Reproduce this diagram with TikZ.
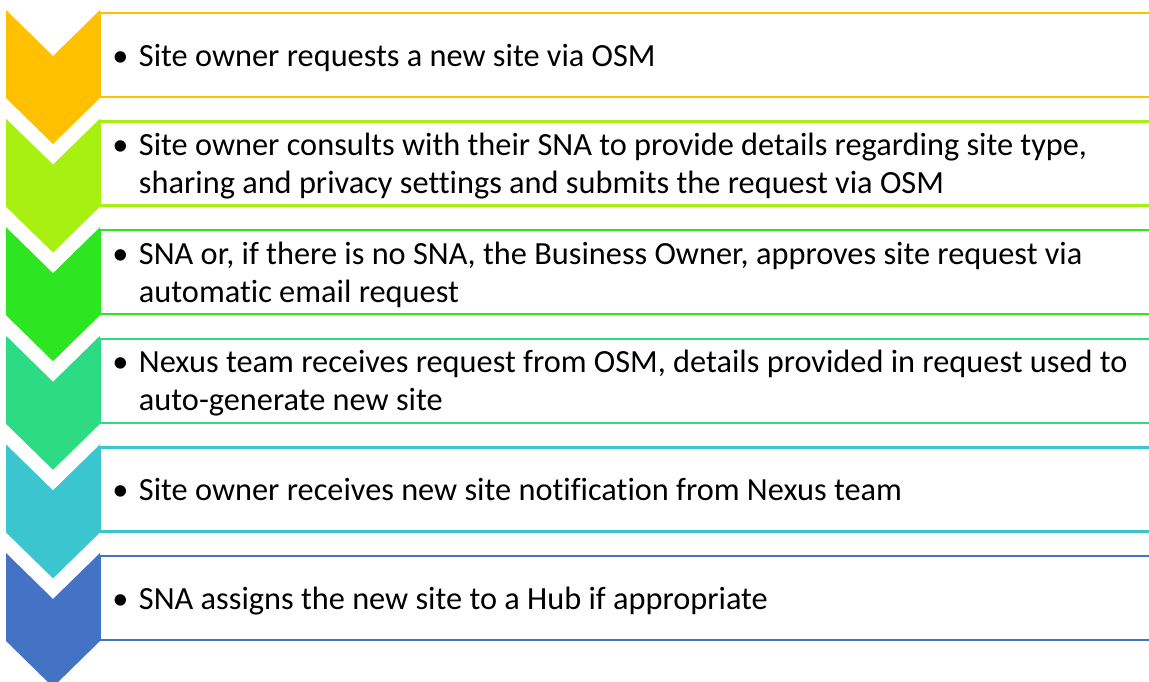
\documentclass[tikz,border=0pt]{standalone}
\usepackage{fontspec}
\setmainfont[Ligatures=NoCommon]{Carlito}

\definecolor{c1}{HTML}{FFC000}
\definecolor{c2}{HTML}{A8F011}
\definecolor{c3}{HTML}{2DE521}
\definecolor{c4}{HTML}{2CDB84}
\definecolor{c5}{HTML}{3BC5CF}
\definecolor{c6}{HTML}{4472C4}

\begin{document}
\begin{tikzpicture}[x=0.02cm, y=-0.02cm]
            \tikzstyle{chev}=[draw=none]
            \tikzstyle{band}=[line width=1.4pt]
            \tikzstyle{txt}=[anchor=west, inner sep=0pt,
            font=\fontsize{18.4}{21.6}\selectfont]
            \useasboundingbox (0,0) rectangle (1149,682);
            \foreach \i/\c/\s in {
              0/c1/{Site owner requests a new site via OSM},
              1/c2/{Site owner consults with their SNA to provide details regarding site type,\\ & sharing and privacy settings and submits the request via OSM},
              2/c3/{SNA or, if there is no SNA, the Business Owner, approves site request via\\ & automatic email request},
              3/c4/{Nexus team receives request from OSM, details provided in request used to\\ & auto-generate new site},
              4/c5/{Site owner receives new site notification from Nexus team},
              5/c6/{SNA assigns the new site to a Hub if appropriate}}
            {
              \pgfmathsetmacro\t{10+108.6*\i}
              \draw[band, \c] (1160,\t+3) -- (100,\t+3) -- (100,\t+87) -- (1160,\t+87);
              \fill[chev, \c] (6,\t) -- (53,\t+46) -- (100,\t) -- (100,\t+88)
                -- (53,\t+134) -- (6,\t+88) -- cycle;
              \node[txt] (s\i) at (112,\t+48.5)
                {\begin{tabular}{@{}l@{\hspace{6pt}}l@{}}\textbullet & \s\end{tabular}};
            }
        \end{tikzpicture}
\end{document}
